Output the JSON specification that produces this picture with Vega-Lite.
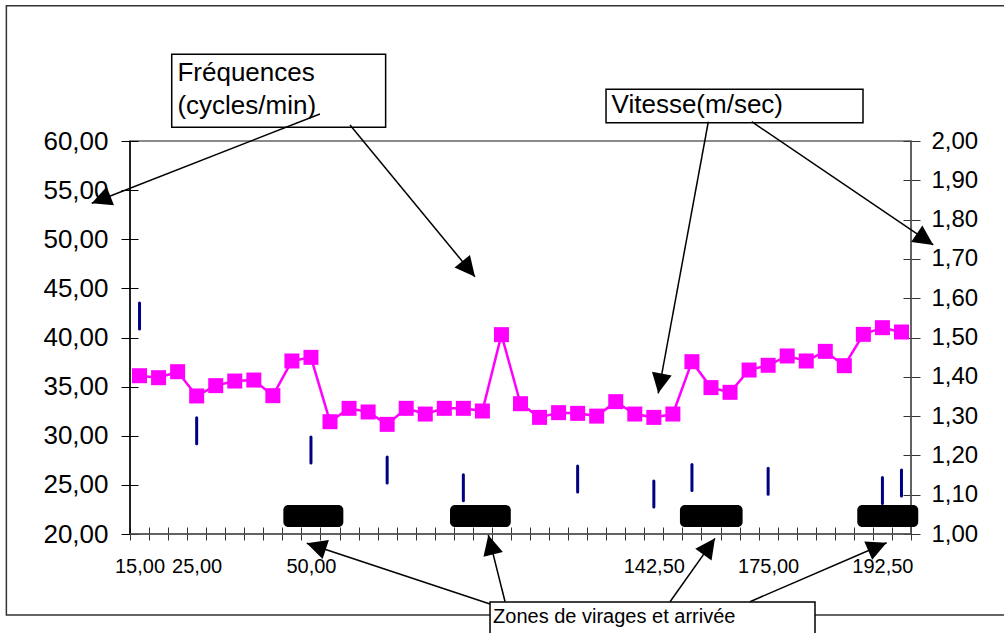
{
  "$schema": "https://vega.github.io/schema/vega-lite/v6.json",
  "width": 781,
  "height": 393,
  "autosize": "none",
  "padding": {"left": 130, "top": 141, "right": 93, "bottom": 99},
  "background": "white",
  "config": {
    "font": "Liberation Sans",
    "view": {"stroke": "#8a8a8a", "strokeWidth": 2},
    "axis": {"labelFont": "Liberation Sans", "labelColor": "#000", "titleFont": "Liberation Sans"}
  },
  "datasets": {
    "series": [
      {"i": 0, "f": 36.11}, {"i": 1, "f": 35.91}, {"i": 2, "f": 36.52}, {"i": 3, "f": 34.05},
      {"i": 4, "f": 35.10}, {"i": 5, "f": 35.57}, {"i": 6, "f": 35.67}, {"i": 7, "f": 34.08},
      {"i": 8, "f": 37.61}, {"i": 9, "f": 37.98}, {"i": 10, "f": 31.43}, {"i": 11, "f": 32.79},
      {"i": 12, "f": 32.42}, {"i": 13, "f": 31.16}, {"i": 14, "f": 32.79}, {"i": 15, "f": 32.21},
      {"i": 16, "f": 32.79}, {"i": 17, "f": 32.79}, {"i": 18, "f": 32.52}, {"i": 19, "f": 40.29},
      {"i": 20, "f": 33.26}, {"i": 21, "f": 31.87}, {"i": 22, "f": 32.35}, {"i": 23, "f": 32.28},
      {"i": 24, "f": 32.00}, {"i": 25, "f": 33.47}, {"i": 26, "f": 32.21}, {"i": 27, "f": 31.87},
      {"i": 28, "f": 32.21}, {"i": 29, "f": 37.54}, {"i": 30, "f": 34.90}, {"i": 31, "f": 34.42},
      {"i": 32, "f": 36.69}, {"i": 33, "f": 37.17}, {"i": 34, "f": 38.12}, {"i": 35, "f": 37.61},
      {"i": 36, "f": 38.59}, {"i": 37, "f": 37.13}, {"i": 38, "f": 40.32}, {"i": 39, "f": 41.00},
      {"i": 40, "f": 40.56}
    ],
    "speed": [
      {"i": 0, "v": 1.555}, {"i": 3, "v": 1.263}, {"i": 9, "v": 1.214}, {"i": 13, "v": 1.163},
      {"i": 17, "v": 1.118}, {"i": 23, "v": 1.140}, {"i": 27, "v": 1.102}, {"i": 29, "v": 1.144},
      {"i": 33, "v": 1.134}, {"i": 39, "v": 1.111}, {"i": 40, "v": 1.130}
    ],
    "zones": [
      {"x": 7.55, "x2": 10.70, "y": 22.95, "y2": 20.71},
      {"x": 16.30, "x2": 19.49, "y": 22.95, "y2": 20.71},
      {"x": 28.37, "x2": 31.66, "y": 22.95, "y2": 20.71},
      {"x": 37.68, "x2": 40.88, "y": 22.95, "y2": 20.71}
    ],
    "frame": [
      {"x": -6.99, "x2": 45.7, "y": 73.77, "y2": 11.76}
    ],
    "boxes": [
      {"x": 1.69, "x2": 12.92, "y": 68.82, "y2": 61.39},
      {"x": 24.49, "x2": 37.98, "y": 65.26, "y2": 61.86},
      {"x": 18.40, "x2": 35.46, "y": 13.08, "y2": 9.21}
    ],
    "arrows": [
      {"x": 9.47, "y": 62.75, "x2": -2.51, "y2": 53.66, "ang": -111.4},
      {"x": 11.05, "y": 61.63, "x2": 17.61, "y2": 46.19, "ang": 140.5},
      {"x": 29.86, "y": 61.96, "x2": 27.23, "y2": 34.32, "ang": -169.6},
      {"x": 32.14, "y": 61.96, "x2": 41.67, "y2": 49.42, "ang": 124.2},
      {"x": 18.40, "y": 12.88, "x2": 8.78, "y2": 19.05, "ang": -71.7},
      {"x": 19.19, "y": 13.11, "x2": 18.31, "y2": 19.90, "ang": -14.1},
      {"x": 27.85, "y": 13.11, "x2": 30.21, "y2": 19.56, "ang": 35.4},
      {"x": 32.05, "y": 13.11, "x2": 39.22, "y2": 19.11, "ang": 66.7}
    ],
    "labels": [
      {"x": 1.99, "y": 66.06, "t": "Fréquences"},
      {"x": 1.99, "y": 62.75, "t": "(cycles/min)"},
      {"x": 24.78, "y": 62.80, "t": "Vitesse(m/sec)"}
    ],
    "zonelabel": [
      {"x": 18.56, "y": 10.94, "t": "Zones de virages et arrivée"}
    ]
  },
  "layer": [
    {
      "layer": [
        {
          "data": {"name": "frame"},
          "mark": {"type": "rect", "filled": false, "stroke": "#333333", "strokeWidth": 1.5},
          "encoding": {
            "x": {"field": "x", "type": "quantitative", "title": null, "scale": {"domain": [-0.5, 40.5], "nice": false, "zero": false}},
            "x2": {"field": "x2"},
            "y": {"field": "y", "type": "quantitative", "title": null, "scale": {"domain": [20, 60], "nice": false, "zero": false}},
            "y2": {"field": "y2"}
          }
        },
        {
          "data": {"name": "boxes"},
          "mark": {"type": "rect", "fill": "white", "stroke": "#000000", "strokeWidth": 1.5},
          "encoding": {
            "x": {"field": "x", "type": "quantitative", "title": null, "scale": {"domain": [-0.5, 40.5], "nice": false, "zero": false}},
            "x2": {"field": "x2"},
            "y": {"field": "y", "type": "quantitative", "title": null, "scale": {"domain": [20, 60], "nice": false, "zero": false}},
            "y2": {"field": "y2"}
          }
        },
        {
          "data": {"values": [{}]},
          "mark": {"type": "rule", "color": "#000000", "strokeWidth": 1.5},
          "encoding": {"x": {"datum": -0.5, "type": "quantitative", "title": null}}
        },
        {
          "data": {"values": [{}]},
          "mark": {"type": "rule", "color": "#555555", "strokeWidth": 1.5},
          "encoding": {"x": {"datum": 40.5, "type": "quantitative", "title": null}}
        },
        {
          "data": {"values": [{}]},
          "mark": {"type": "rule", "color": "#555555", "strokeWidth": 1.5},
          "encoding": {"y": {"datum": 20, "type": "quantitative", "title": null}}
        },
        {
          "data": {"name": "zones"},
          "mark": {"type": "rect", "fill": "#000000", "cornerRadius": 5},
          "encoding": {
            "x": {"field": "x", "type": "quantitative", "title": null, "scale": {"domain": [-0.5, 40.5], "nice": false, "zero": false}},
            "x2": {"field": "x2"},
            "y": {"field": "y", "type": "quantitative", "title": null, "scale": {"domain": [20, 60], "nice": false, "zero": false}},
            "y2": {"field": "y2"}
          }
        },
        {
          "data": {"name": "series"},
          "mark": {"type": "line", "color": "#FF00FF", "strokeWidth": 2.5},
          "encoding": {
            "x": {
              "field": "i", "type": "quantitative", "title": null,
              "scale": {"domain": [-0.5, 40.5], "nice": false, "zero": false},
              "axis": {
                "orient": "bottom",
                "values": [-0.5, 0.5, 1.5, 2.5, 3.5, 4.5, 5.5, 6.5, 7.5, 8.5, 9.5, 10.5, 11.5, 12.5, 13.5, 14.5, 15.5, 16.5, 17.5, 18.5, 19.5, 20.5, 21.5, 22.5, 23.5, 24.5, 25.5, 26.5, 27.5, 28.5, 29.5, 30.5, 31.5, 32.5, 33.5, 34.5, 35.5, 36.5, 37.5, 38.5, 39.5, 40.5],
                "tickCount": 100,
                "labelExpr": "datum.value == -0.5 ? '15,00' : datum.value == 2.5 ? '25,00' : datum.value == 8.5 ? '50,00' : datum.value == 26.5 ? '142,50' : datum.value == 32.5 ? '175,00' : datum.value == 38.5 ? '192,50' : ''",
                "labelOffset": 9.5,
                "labelFlush": false,
                "labelOverlap": false,
                "labelBound": false,
                "domain": false,
                "grid": false,
                "offset": -7,
                "tickSize": 13,
                "tickColor": "#333333",
                "labelFontSize": 20,
                "labelPadding": 16
              }
            },
            "y": {
              "field": "f", "type": "quantitative", "title": null,
              "scale": {"domain": [20, 60], "nice": false, "zero": false},
              "axis": {
                "orient": "left",
                "values": [20, 25, 30, 35, 40, 45, 50, 55, 60],
                "tickCount": 50,
                "labelExpr": "replace(format(datum.value, '.2f'), '.', ',')",
                "domain": false,
                "grid": false,
                "offset": -8,
                "tickSize": 17,
                "tickColor": "#000000",
                "labelFontSize": 26,
                "labelPadding": 13,
                "labelOverlap": false
              }
            }
          }
        },
        {
          "data": {"name": "series"},
          "mark": {"type": "point", "shape": "square", "filled": true, "color": "#FF00FF", "size": 225, "opacity": 1},
          "encoding": {
            "x": {"field": "i", "type": "quantitative", "title": null, "scale": {"domain": [-0.5, 40.5], "nice": false, "zero": false}},
            "y": {"field": "f", "type": "quantitative", "title": null, "scale": {"domain": [20, 60], "nice": false, "zero": false}}
          }
        },
        {
          "data": {"name": "arrows"},
          "mark": {"type": "rule", "color": "#000000", "strokeWidth": 1.5},
          "encoding": {
            "x": {"field": "x", "type": "quantitative", "title": null, "scale": {"domain": [-0.5, 40.5], "nice": false, "zero": false}},
            "x2": {"field": "x2"},
            "y": {"field": "y", "type": "quantitative", "title": null, "scale": {"domain": [20, 60], "nice": false, "zero": false}},
            "y2": {"field": "y2"}
          }
        },
        {
          "data": {"name": "arrows"},
          "mark": {"type": "point", "shape": "M0,0L-0.5,1L0.5,1Z", "filled": true, "color": "#000000", "size": 1600, "opacity": 1},
          "encoding": {
            "x": {"field": "x2", "type": "quantitative", "title": null, "scale": {"domain": [-0.5, 40.5], "nice": false, "zero": false}},
            "y": {"field": "y2", "type": "quantitative", "title": null, "scale": {"domain": [20, 60], "nice": false, "zero": false}},
            "angle": {"field": "ang", "type": "quantitative", "scale": null}
          }
        },
        {
          "data": {"name": "labels"},
          "mark": {"type": "text", "align": "left", "baseline": "alphabetic", "fontSize": 26, "color": "#000000", "font": "Liberation Sans"},
          "encoding": {
            "x": {"field": "x", "type": "quantitative", "title": null, "scale": {"domain": [-0.5, 40.5], "nice": false, "zero": false}},
            "y": {"field": "y", "type": "quantitative", "title": null, "scale": {"domain": [20, 60], "nice": false, "zero": false}},
            "text": {"field": "t", "type": "nominal"}
          }
        },
        {
          "data": {"name": "zonelabel"},
          "mark": {"type": "text", "align": "left", "baseline": "alphabetic", "fontSize": 20, "color": "#000000", "font": "Liberation Sans"},
          "encoding": {
            "x": {"field": "x", "type": "quantitative", "title": null, "scale": {"domain": [-0.5, 40.5], "nice": false, "zero": false}},
            "y": {"field": "y", "type": "quantitative", "title": null, "scale": {"domain": [20, 60], "nice": false, "zero": false}},
            "text": {"field": "t", "type": "nominal"}
          }
        }
      ]
    },
    {
      "data": {"name": "speed"},
      "mark": {"type": "point", "shape": "M0,-1L0,1", "filled": false, "stroke": "#000080", "strokeWidth": 3, "strokeCap": "round", "size": 676, "opacity": 1},
      "encoding": {
        "x": {"field": "i", "type": "quantitative", "title": null, "scale": {"domain": [-0.5, 40.5], "nice": false, "zero": false}},
        "y": {
          "field": "v", "type": "quantitative", "title": null,
          "scale": {"domain": [1, 2], "nice": false, "zero": false},
          "axis": {
            "orient": "right",
            "values": [1, 1.1, 1.2, 1.3, 1.4, 1.5, 1.6, 1.7, 1.8, 1.9, 2],
            "tickCount": 50,
            "labelExpr": "replace(format(datum.value, '.2f'), '.', ',')",
            "domain": false,
            "grid": false,
            "offset": -8,
            "tickSize": 17,
            "tickColor": "#333333",
            "labelFontSize": 24,
            "labelPadding": 11,
            "labelOverlap": false
          }
        }
      }
    }
  ],
  "resolve": {"scale": {"y": "independent"}}
}
